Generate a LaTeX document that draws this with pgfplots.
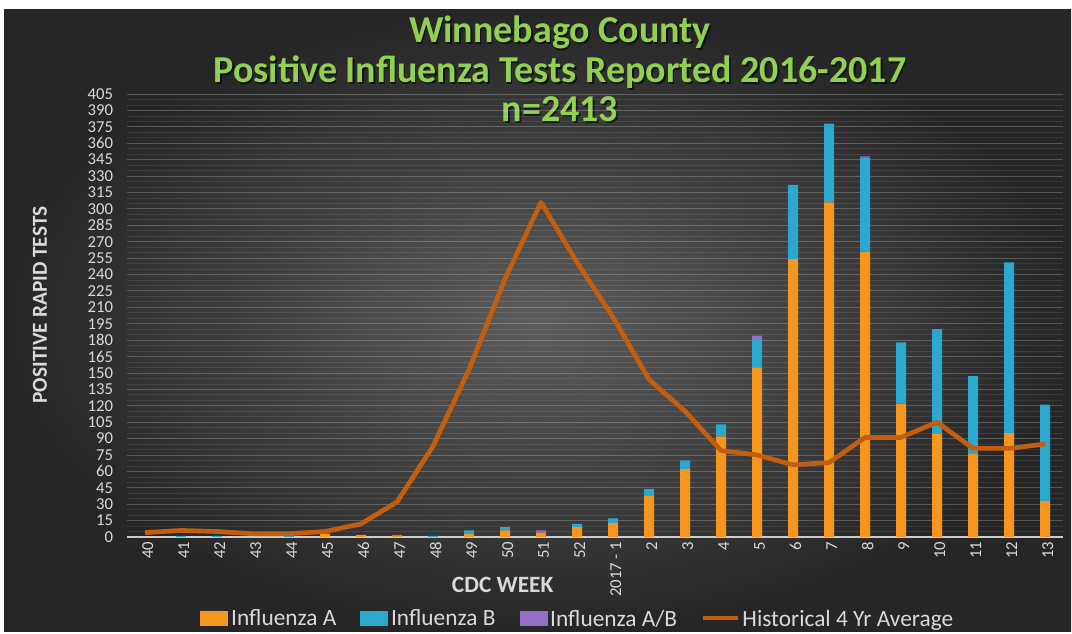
\documentclass[border=0pt]{standalone}
\usepackage{fontspec}
\setmainfont{Carlito}
\usepackage{pgfplots}
\pgfplotsset{compat=1.18}
\definecolor{bgIn}{HTML}{5C5C5C}
\definecolor{bgOut}{HTML}{262626}
\definecolor{titleG}{HTML}{92D050}
\definecolor{txt}{HTML}{D9D9D9}
\definecolor{fluA}{HTML}{F7961F}
\definecolor{fluB}{HTML}{2AA8D0}
\definecolor{fluAB}{HTML}{9270C8}
\definecolor{hist}{HTML}{C45E0F}
\begin{document}
\begin{tikzpicture}
\fill[white] (0pt,0pt) rectangle (804pt,473.25pt);
\shade[inner color=bgIn, outer color=bgOut] (3pt,0pt) rectangle (803.25pt,465.75pt);
% titles
\foreach \yy/\tt in {441/{Winnebago County},411/{Positive Influenza Tests Reported 2016-2017},382/{n=2413}}{
  \node[anchor=base, text=black, opacity=0.6, font=\bfseries\fontsize{28.5}{32}\selectfont] at (421.2pt,\yy pt-1.2pt) {\tt};
  \node[anchor=base, text=titleG, font=\bfseries\fontsize{28.5}{32}\selectfont] at (420pt,\yy pt) {\tt};
}
\node[rotate=90, text=txt, font=\bfseries\fontsize{16}{16}\selectfont] at (30pt,244.5pt) {POSITIVE RAPID TESTS};
\node[text=txt, font=\bfseries\fontsize{17.5}{17.5}\selectfont] at (377pt,34.5pt) {CDC WEEK};

\begin{axis}[
  at={(95.25pt,70.5pt)}, anchor=south west,
  scale only axis, width=702pt, height=332.25pt,
  xmin=-0.5, xmax=25.5, ymin=0, ymax=405,
  ybar stacked, bar width=7.5pt,
  xtick={0,...,25},
  xticklabels={40,41,42,43,44,45,46,47,48,49,50,51,52,2017 - 1,2,3,4,5,6,7,8,9,10,11,12,13},
  ytick={0,15,...,405},
  minor y tick num=2,
  ymajorgrids, yminorgrids,
  major grid style={draw=white, opacity=0.22, line width=0.6pt},
  minor grid style={draw=white, opacity=0.09, line width=0.5pt},
  axis x line*=bottom, axis y line*=left,
  x axis line style={draw=white!80!black, line width=1pt},
  y axis line style={draw=none},
  major tick length=0pt, minor tick length=0pt,
  /pgf/number format/assume math mode=true,
  yticklabel style={text=txt, font=\fontsize{12.5}{12.5}\selectfont, xshift=-7pt},
  xticklabel style={text=txt, font=\fontsize{12.5}{12.5}\selectfont, rotate=90, anchor=east, yshift=-2pt},
  legend columns=4,
  legend style={at={(0.482,-0.185)}, anchor=center, draw=none, fill=none,
    text=txt, font=\fontsize{17.5}{17.5}\selectfont,
    /tikz/every even column/.append style={column sep=16pt},
    /tikz/every odd column/.append style={column sep=0pt}},
  legend cell align=left,
]
\addplot[fill=fluA, draw=none,
  legend image code/.code={\fill[fluA] (0pt,-5pt) rectangle (21pt,6pt);}]
  coordinates {(0,0) (1,0) (2,0) (3,0) (4,0) (5,3) (6,2) (7,1) (8,0) (9,3) (10,6) (11,4) (12,9) (13,13) (14,38) (15,62) (16,92) (17,155) (18,254) (19,306) (20,261) (21,122) (22,94) (23,76) (24,95) (25,33)};
\addlegendentry{Influenza A}
\addplot[fill=fluB, draw=none,
  legend image code/.code={\fill[fluB] (0pt,-5pt) rectangle (21pt,6pt);}]
  coordinates {(0,0) (1,1) (2,1) (3,0) (4,1) (5,0) (6,0) (7,0) (8,1) (9,3) (10,3) (11,0) (12,3) (13,4) (14,6) (15,8) (16,11) (17,26) (18,68) (19,72) (20,86) (21,56) (22,96) (23,71) (24,156) (25,88)};
\addlegendentry{Influenza B}
\addplot[fill=fluAB, draw=none,
  legend image code/.code={\fill[fluAB] (0pt,-5pt) rectangle (21pt,6pt);}]
  coordinates {(0,0) (1,0) (2,0) (3,0) (4,0) (5,0) (6,0) (7,1) (8,0) (9,0) (10,0) (11,2) (12,0) (13,0) (14,0) (15,0) (16,0) (17,3) (18,0) (19,0) (20,1) (21,0) (22,0) (23,0) (24,0) (25,0)};
\addlegendentry{Influenza A/B}
\addlegendimage{legend image code/.code={\draw[hist, line width=3pt] (0pt,0.5pt) -- (26pt,0.5pt);}}
\addlegendentry{Historical 4 Yr Average}
\end{axis}

\begin{axis}[
  at={(95.25pt,70.5pt)}, anchor=south west,
  scale only axis, width=702pt, height=332.25pt,
  xmin=-0.5, xmax=25.5, ymin=0, ymax=405,
  hide axis,
]
\addplot[draw=hist, line width=3.5pt, mark=none, line join=round]
  coordinates {(0,4) (1,6) (2,5) (3,3) (4,3) (5,5) (6,12) (7,32) (8,83) (9,153) (10,236) (11,306) (12,251) (13,201) (14,144) (15,115) (16,79) (17,75) (18,66) (19,68) (20,91) (21,91) (22,105) (23,81) (24,81) (25,85)};
\end{axis}
\end{tikzpicture}
\end{document}
